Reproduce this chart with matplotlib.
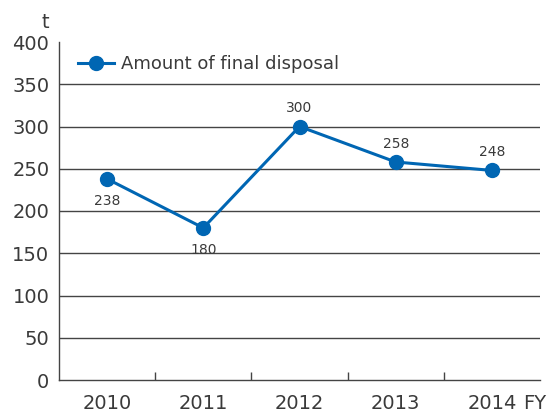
import matplotlib
matplotlib.use('Agg')
import matplotlib.pyplot as plt
import numpy as np

# data
years = ['2010', '2011', '2012', '2013', '2014']
disposal = [238, 180, 300, 258, 248]
label_pos = ['below', 'below', 'above', 'above', 'above']
yticks = [0, 50, 100, 150, 200, 250, 300, 350, 400]

plt.rcParams['font.family'] = ['DejaVu Sans']
txt = '#3a3a3a'
blue = '#0066b3'

fig = plt.figure(figsize=(5.56, 4.16), dpi=100)
ax = fig.add_axes([59/556, 1 - 380/416, 481/556, 338/416])

x = np.arange(len(years))
ax.plot(x, disposal, color=blue, lw=2.2, marker='o', ms=10,
        label='Amount of final disposal', zorder=3)

for xi, v, pos in zip(x, disposal, label_pos):
    dy = -16 if pos == 'below' else 13
    ax.annotate(str(v), (xi, v), xytext=(0, dy), textcoords='offset points',
                ha='center', va='center', fontsize=10, color=txt)

ax.set_xlim(-0.5, 4.5)
ax.set_ylim(0, 400)

# horizontal grid
for y in yticks[1:-1]:
    ax.axhline(y, color='#444444', lw=1.0, zorder=1)

ax.set_yticks(yticks)
ax.set_yticklabels([str(t) for t in yticks])
ax.tick_params(axis='y', length=0, pad=7, labelsize=14, labelcolor=txt)

ax.set_xticks(x)
ax.set_xticklabels(years)
ax.set_xticks(x[:-1] + 0.5, minor=True)
ax.tick_params(axis='x', which='major', length=0, pad=10, labelsize=14, labelcolor=txt)
ax.tick_params(axis='x', which='minor', direction='in', length=6, width=1, color='#444444')

for s in ['top', 'right']:
    ax.spines[s].set_visible(False)
for s in ['left', 'bottom']:
    ax.spines[s].set_color('#444444')
    ax.spines[s].set_linewidth(1.0)

fig.text(45/556, 1 - 22/416, 't', ha='center', va='center', fontsize=14, color=txt)
ax.annotate('FY', (4.5, 0), xytext=(-12, -17), textcoords='offset points',
            ha='left', va='center', fontsize=14, color=txt, annotation_clip=False)

ax.legend(loc='upper left', bbox_to_anchor=(0.005, 1.01), frameon=False,
          fontsize=13, labelcolor=txt, handlelength=2.0, handletextpad=0.4)

fig.savefig('out.png', dpi=100)
